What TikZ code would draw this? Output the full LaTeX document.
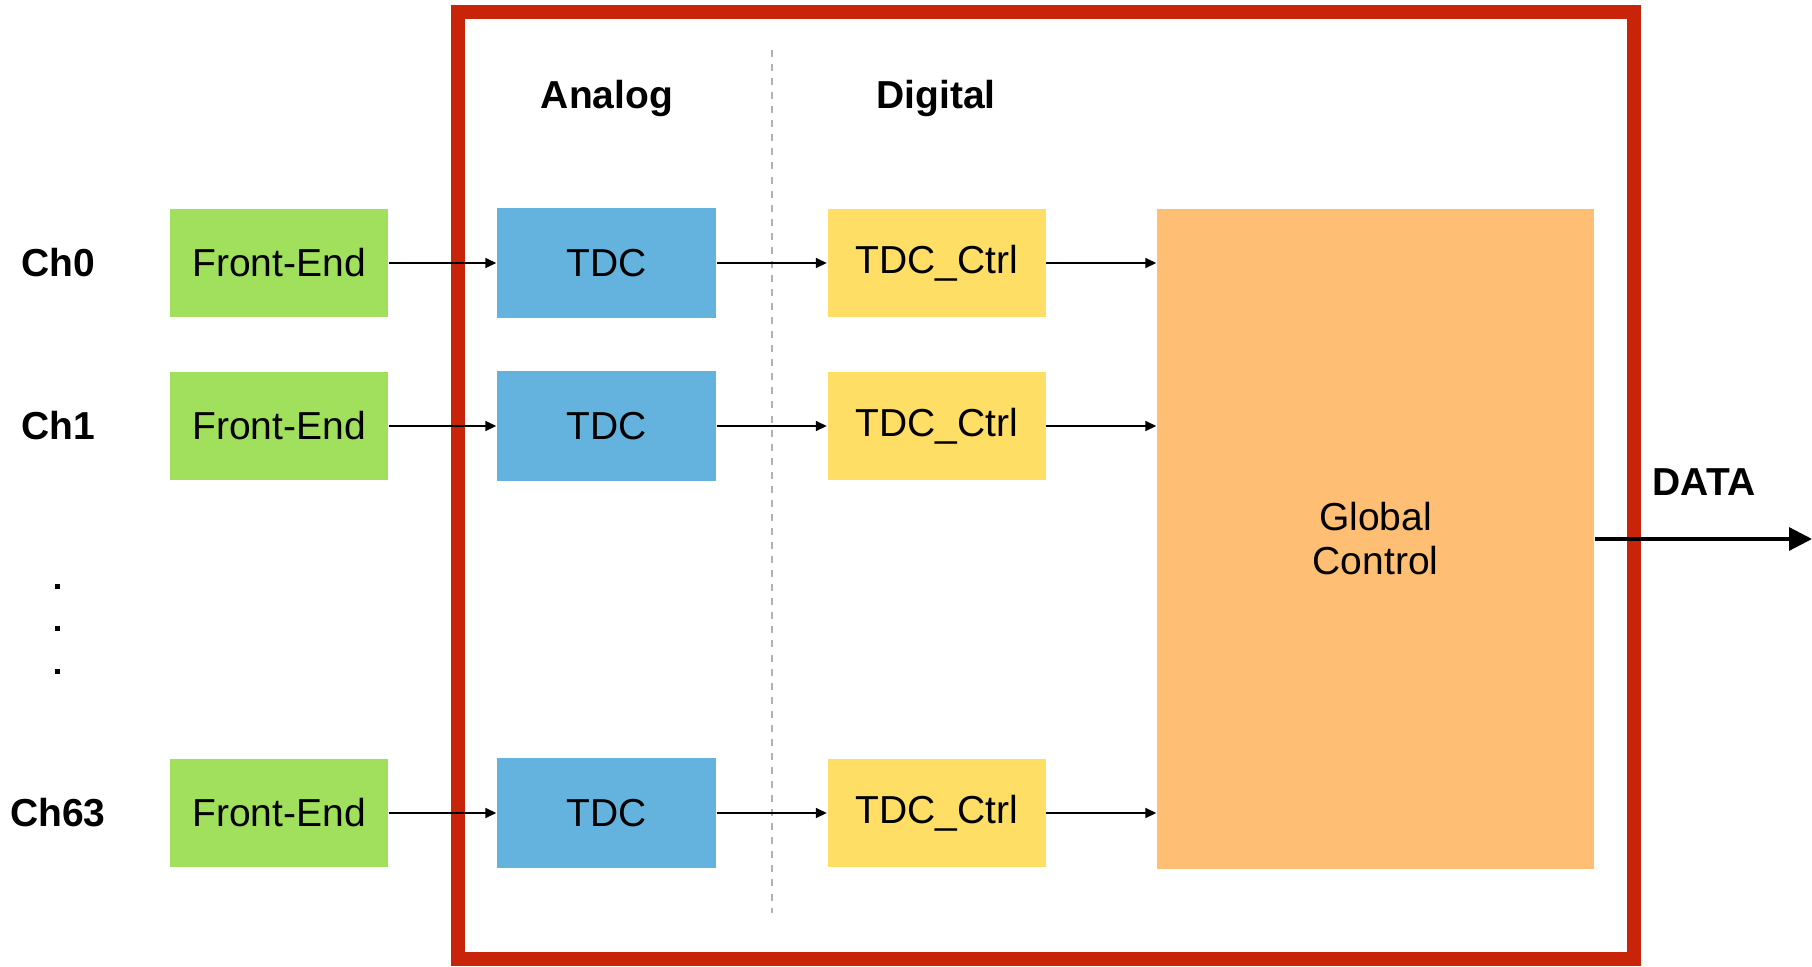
\documentclass[tikz,border=0pt]{standalone}
\usepackage{fontspec}
\setmainfont{Liberation Sans}
\usepackage{tikz}
\usetikzlibrary{arrows.meta, positioning}
\definecolor{FEgreen}{RGB}{160,224,92}
\definecolor{TDCblue}{RGB}{100,178,222}
\definecolor{CTRLyellow}{RGB}{254,222,100}
\definecolor{GLBorange}{RGB}{254,190,115}
\definecolor{FRAMEred}{RGB}{200,36,10}

\begin{document}
\begin{tikzpicture}[
    blk/.style={minimum width=2.18cm, minimum height=1.08cm, inner sep=0pt,
      font=\fontsize{11.1}{13}\selectfont},
    lbl/.style={font=\fontsize{11.1}{13}\selectfont\bfseries},
    link/.style={-{Triangle[length=0.11cm,width=0.1cm]}, line width=0.45pt}
  ]
  \useasboundingbox (0,0) rectangle (18.12,-9.67);
  % chip outline
  \draw[FRAMEred, line width=4pt] (4.58,-0.12) rectangle (16.34,-9.59);
  \draw[gray!60, dash pattern=on 2pt off 2pt] (7.72,-0.50) -- (7.72,-9.13);
  \node[lbl] (analog) at (6.07,-0.98) {Analog};
  \node[lbl] (digital) at (9.36,-0.98) {Digital};

  \node[blk, fill=GLBorange, minimum width=4.37cm, minimum height=6.60cm,
    align=center, font=\fontsize{11.1}{12.5}\selectfont] (glob) at (13.755,-5.39)
    {Global\\Control};

  % channels
  \foreach \n/\y/\c in {0/2.63/Ch0, 1/4.26/Ch1, 63/8.13/Ch63} {
    \node[lbl] (ch\n) at (0.58,-\y) {\c};
    \node[blk, fill=FEgreen] (fe\n) at (2.79,-\y) {Front-End};
    \node[blk, fill=TDCblue, minimum width=2.19cm, minimum height=1.10cm] (tdc\n) at (6.065,-\y) {TDC};
    \node[blk, fill=CTRLyellow] (ctl\n) at (9.365,-\y) {TDC\_Ctrl};
    \draw[link] (fe\n) -- (tdc\n);
    \draw[link] (tdc\n) -- (ctl\n);
    \draw[link] (ctl\n) -- (ctl\n -| glob.west);
  }

  \foreach \y in {5.86, 6.28, 6.71}
    \fill (0.555,-\y+0.025) rectangle (0.605,-\y-0.025);

  % output
  \coordinate (dout) at (18.12,-5.39);
  \draw[-{Triangle[length=0.23cm,width=0.23cm]}, line width=0.9pt] (glob.east) -- (dout);
  \node[lbl] (data) at (17.04,-4.82) {DATA};
\end{tikzpicture}
\end{document}
